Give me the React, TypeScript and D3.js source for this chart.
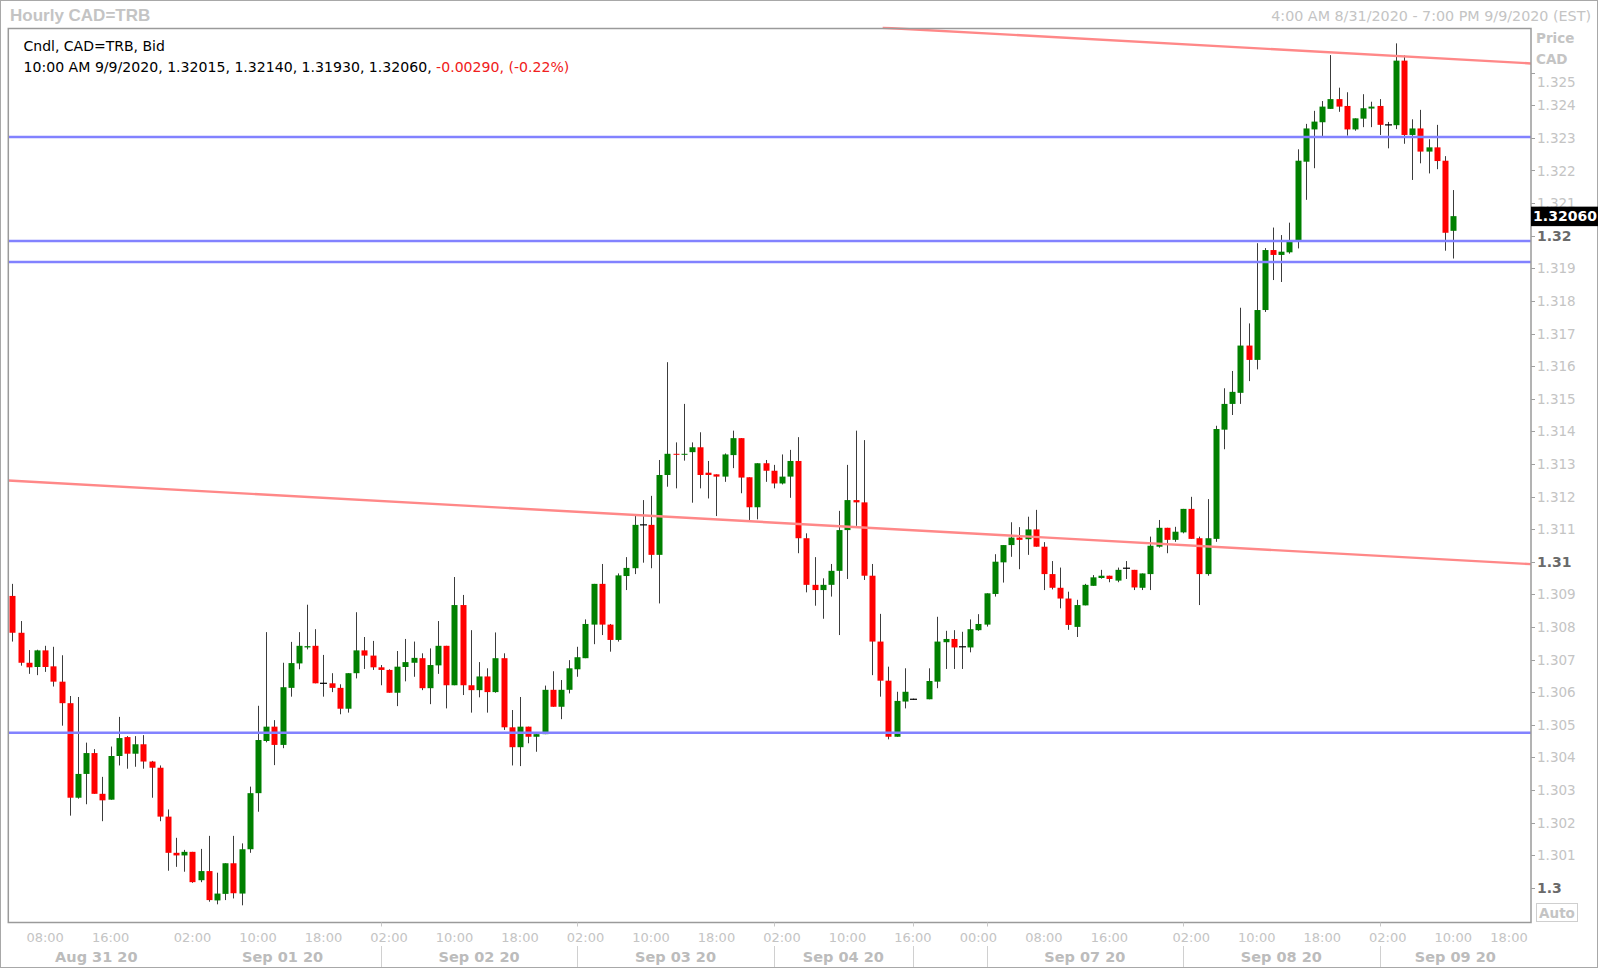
import React from 'react';
import * as d3 from 'd3';

// ---------- DATA (hourly slots, slot 1 = 4:00 AM 8/31/2020; null = no bar) ----------
const OPEN: (number | null)[] = [
  1.30895, 1.30782, 1.30690, 1.30677, 1.30728, 1.30679, 1.30632, 1.30566, 1.30276, 1.30349,
  1.30413, 1.30288, 1.30270, 1.30404, 1.30462, 1.30411, 1.30440, 1.30387, 1.30368, 1.30218,
  1.30107, 1.30099, 1.30110, 1.30023, 1.30051, 1.29961, 1.29981, 1.30075, 1.29982, 1.30118,
  1.30290, 1.30450, 1.30494, 1.30438, 1.30613, 1.30688, 1.30737, 1.30742, 1.30627, 1.30627,
  1.30613, 1.30549, 1.30658, 1.30728, 1.30712, 1.30676, 1.30668, 1.30598, 1.30677, 1.30690,
  1.30704, 1.30612, 1.30682, 1.30742, 1.30621, 1.30867, 1.30621, 1.30606, 1.30648, 1.30600,
  1.30704, 1.30492, 1.30431, 1.30494, 1.30463, 1.30471, 1.30607, 1.30555, 1.30607, 1.30670,
  1.30704, 1.30807, 1.30932, 1.30807, 1.30760, 1.30956, 1.30980, 1.31113, 1.31113, 1.31021,
  1.31266, 1.31331, 1.31328, 1.31336, 1.31351, 1.31273, 1.31268, 1.31261, 1.31327, 1.31379,
  1.31259, 1.31167, 1.31302, 1.31279, 1.31240, 1.31261, 1.31309, 1.31072, 1.30929, 1.30913,
  1.30929, 1.30972, 1.31097, 1.31189, 1.31182, 1.30957, 1.30755, 1.30635, 1.30463, 1.30571,
  1.30578, null, 1.30578, 1.30632, 1.30753, 1.30763, 1.30739, 1.30737, 1.30790, 1.30807,
  1.30901, 1.30998, 1.31051, 1.31074, 1.31069, 1.31099, 1.31046, 1.30962, 1.30920, 1.30887,
  1.30800, 1.30866, 1.30926, 1.30950, 1.30957, 1.30942, 1.30980, 1.30975, 1.30920, 1.30962,
  1.31046, 1.31104, 1.31067, 1.31090, 1.31162, 1.31072, 1.30962, 1.31070, 1.31405, 1.31484,
  1.31518, 1.31663, 1.31619, 1.31772, 1.31956, 1.31941, 1.31949, 1.31985, 1.32227, 1.32326,
  1.32348, 1.32389, 1.32419, 1.32398, 1.32326, 1.32359, 1.32390, 1.32398, 1.32340, 1.32339,
  1.32537, 1.32309, 1.32329, 1.32258, 1.32271, 1.32230, 1.32015,
];
const HIGH: (number | null)[] = [
  1.30932, 1.30818, 1.30729, 1.30730, 1.30742, 1.30739, 1.30713, 1.30588, 1.30585, 1.30445,
  1.30425, 1.30340, 1.30433, 1.30524, 1.30465, 1.30465, 1.30468, 1.30389, 1.30375, 1.30240,
  1.30153, 1.30116, 1.30110, 1.30119, 1.30159, 1.30046, 1.30075, 1.30159, 1.30136, 1.30310,
  1.30558, 1.30784, 1.30514, 1.30690, 1.30754, 1.30784, 1.30868, 1.30793, 1.30714, 1.30658,
  1.30624, 1.30658, 1.30845, 1.30769, 1.30757, 1.30683, 1.30670, 1.30726, 1.30763, 1.30755,
  1.30719, 1.30734, 1.30818, 1.30742, 1.30953, 1.30898, 1.30790, 1.30692, 1.30673, 1.30783,
  1.30719, 1.30545, 1.30585, 1.30494, 1.30471, 1.30620, 1.30664, 1.30637, 1.30698, 1.30739,
  1.30823, 1.30932, 1.30993, 1.30809, 1.30964, 1.31014, 1.31141, 1.31189, 1.31202, 1.31312,
  1.31612, 1.31366, 1.31484, 1.31366, 1.31397, 1.31309, 1.31268, 1.31332, 1.31402, 1.31379,
  1.31259, 1.31302, 1.31312, 1.31297, 1.31329, 1.31343, 1.31382, 1.31087, 1.31014, 1.30949,
  1.30993, 1.31156, 1.31297, 1.31402, 1.31373, 1.30993, 1.30840, 1.30678, 1.30601, 1.30673,
  1.30580, null, 1.30673, 1.30831, 1.30788, 1.30790, 1.30785, 1.30823, 1.30839, 1.30903,
  1.31023, 1.31051, 1.31121, 1.31106, 1.31138, 1.31159, 1.31060, 1.31002, 1.30982, 1.30908,
  1.30883, 1.30932, 1.30959, 1.30975, 1.30957, 1.30982, 1.31002, 1.30975, 1.30964, 1.31077,
  1.31128, 1.31104, 1.31107, 1.31162, 1.31199, 1.31077, 1.31192, 1.31417, 1.31532, 1.31585,
  1.31779, 1.31731, 1.31977, 1.31962, 1.32025, 1.32002, 1.32040, 1.32265, 1.32343, 1.32383,
  1.32413, 1.32554, 1.32454, 1.32440, 1.32360, 1.32434, 1.32411, 1.32419, 1.32349, 1.32590,
  1.32553, 1.32357, 1.32386, 1.32296, 1.32340, 1.32244, 1.32140,
];
const LOW: (number | null)[] = [
  1.30755, 1.30681, 1.30656, 1.30652, 1.30662, 1.30617, 1.30497, 1.30221, 1.30273, 1.30256,
  1.30288, 1.30204, 1.30270, 1.30375, 1.30365, 1.30371, 1.30365, 1.30276, 1.30204, 1.30052,
  1.30064, 1.30049, 1.30015, 1.30017, 1.29957, 1.29949, 1.29962, 1.29967, 1.29946, 1.30107,
  1.30233, 1.30446, 1.30376, 1.30428, 1.30586, 1.30670, 1.30731, 1.30627, 1.30586, 1.30600,
  1.30532, 1.30537, 1.30642, 1.30671, 1.30668, 1.30621, 1.30598, 1.30557, 1.30633, 1.30647,
  1.30606, 1.30563, 1.30656, 1.30550, 1.30621, 1.30591, 1.30537, 1.30584, 1.30537, 1.30598,
  1.30484, 1.30375, 1.30373, 1.30443, 1.30417, 1.30471, 1.30555, 1.30517, 1.30596, 1.30647,
  1.30704, 1.30747, 1.30775, 1.30724, 1.30755, 1.30913, 1.30962, 1.30997, 1.30980, 1.30872,
  1.31230, 1.31225, 1.31310, 1.31181, 1.31225, 1.31194, 1.31140, 1.31245, 1.31287, 1.31210,
  1.31128, 1.31130, 1.31245, 1.31225, 1.31237, 1.31196, 1.31026, 1.30906, 1.30865, 1.30825,
  1.30893, 1.30775, 1.30947, 1.31110, 1.30944, 1.30652, 1.30586, 1.30455, 1.30463, 1.30550,
  1.30576, null, 1.30578, 1.30612, 1.30671, 1.30671, 1.30671, 1.30722, 1.30788, 1.30801,
  1.30893, 1.30936, 1.31015, 1.30977, 1.31021, 1.31046, 1.30913, 1.30915, 1.30857, 1.30791,
  1.30769, 1.30866, 1.30926, 1.30948, 1.30937, 1.30937, 1.30947, 1.30913, 1.30913, 1.30913,
  1.31043, 1.31026, 1.31061, 1.31087, 1.31070, 1.30867, 1.30957, 1.31061, 1.31345, 1.31450,
  1.31484, 1.31554, 1.31590, 1.31766, 1.31864, 1.31858, 1.31945, 1.31961, 1.32110, 1.32207,
  1.32304, 1.32389, 1.32380, 1.32307, 1.32322, 1.32333, 1.32333, 1.32309, 1.32268, 1.32327,
  1.32282, 1.32171, 1.32222, 1.32191, 1.32204, 1.31954, 1.31930,
];
const CLOSE: (number | null)[] = [
  1.30782, 1.30690, 1.30676, 1.30728, 1.30677, 1.30632, 1.30566, 1.30276, 1.30349, 1.30413,
  1.30288, 1.30268, 1.30404, 1.30459, 1.30411, 1.30440, 1.30387, 1.30368, 1.30218, 1.30107,
  1.30099, 1.30110, 1.30017, 1.30051, 1.29962, 1.29982, 1.30075, 1.29983, 1.30118, 1.30290,
  1.30453, 1.30494, 1.30438, 1.30615, 1.30689, 1.30742, 1.30741, 1.30627, 1.30627, 1.30613,
  1.30549, 1.30658, 1.30728, 1.30712, 1.30676, 1.30668, 1.30598, 1.30678, 1.30692, 1.30705,
  1.30612, 1.30683, 1.30742, 1.30621, 1.30867, 1.30621, 1.30606, 1.30648, 1.30600, 1.30704,
  1.30492, 1.30431, 1.30494, 1.30463, 1.30471, 1.30607, 1.30555, 1.30607, 1.30673, 1.30707,
  1.30809, 1.30932, 1.30807, 1.30760, 1.30958, 1.30981, 1.31113, 1.31113, 1.31021, 1.31266,
  1.31331, 1.31328, 1.31331, 1.31351, 1.31266, 1.31266, 1.31261, 1.31329, 1.31379, 1.31258,
  1.31167, 1.31302, 1.31279, 1.31240, 1.31261, 1.31309, 1.31072, 1.30929, 1.30913, 1.30929,
  1.30972, 1.31097, 1.31189, 1.31182, 1.30957, 1.30755, 1.30635, 1.30463, 1.30573, 1.30601,
  1.30578, null, 1.30634, 1.30755, 1.30763, 1.30737, 1.30739, 1.30793, 1.30809, 1.30903,
  1.31000, 1.31051, 1.31074, 1.31067, 1.31099, 1.31046, 1.30962, 1.30920, 1.30887, 1.30806,
  1.30867, 1.30929, 1.30952, 1.30957, 1.30947, 1.30975, 1.30980, 1.30921, 1.30964, 1.31049,
  1.31104, 1.31067, 1.31092, 1.31162, 1.31070, 1.30962, 1.31072, 1.31407, 1.31484, 1.31521,
  1.31663, 1.31619, 1.31772, 1.31956, 1.31941, 1.31951, 1.31982, 1.32230, 1.32329, 1.32350,
  1.32396, 1.32419, 1.32396, 1.32326, 1.32360, 1.32391, 1.32396, 1.32340, 1.32340, 1.32537,
  1.32309, 1.32329, 1.32258, 1.32271, 1.32229, 1.32009, 1.32060,
];

const SLOT_COUNT = 186; // 4:00 AM 8/31 .. 7:00 PM 9/9
const H_LINES = [1.32303, 1.31984, 1.31919, 1.30475];
const TREND_LINES: [number, number][][] = [
  [[107.3, 1.32638], [186.8, 1.32528]],
  [[0.49, 1.31249], [186.8, 1.30992]],
];
const Y_TICKS = [
  1.300, 1.301, 1.302, 1.303, 1.304, 1.305, 1.306, 1.307, 1.308, 1.309,
  1.310, 1.311, 1.312, 1.313, 1.314, 1.315, 1.316, 1.317, 1.318, 1.319,
  1.320, 1.321, 1.322, 1.323, 1.324, 1.325,
];
const TIME_LABEL_SLOTS = [5, 13, 23, 31, 39, 47, 55, 63, 71, 79, 87, 95, 103, 111, 119, 127, 135, 145, 153, 161, 169, 177, 185];
const TIME_LABELS = ['08:00', '16:00', '02:00', '10:00', '18:00', '02:00', '10:00', '18:00', '02:00', '10:00', '18:00', '02:00', '10:00', '16:00', '00:00', '08:00', '16:00', '02:00', '10:00', '18:00', '02:00', '10:00', '18:00'];
const DATE_LABELS = ['Aug 31 20', 'Sep 01 20', 'Sep 02 20', 'Sep 03 20', 'Sep 04 20', 'Sep 07 20', 'Sep 08 20', 'Sep 09 20'];
const DATE_SPANS: [number, number][] = [[0.5, 22], [22, 46], [46, 70], [70, 94], [94, 111], [120, 144], [144, 168], [168, 186.5]];
const DATE_SEPARATORS = [46, 70, 94, 111, 120, 144, 168];
const LAST_INFO = '10:00 AM 9/9/2020';
const LAST_CHANGE = '-0.00290, (-0.22%)';

const FONT = "'DejaVu Sans', Verdana, sans-serif";
const PL = 8.3, PR = 1531, PT = 28.5, PB = 922.5;

export default function App() {
  const x = d3.scaleLinear().domain([0.5, SLOT_COUNT + 0.5]).range([PL, PR]);
  const y = d3.scaleLinear().domain([1.3, 1.32]).range([887.7, 235.7]);
  const line = d3.line<[number, number]>().x(d => x(d[0])).y(d => y(d[1]));
  const bw = 6;
  const last = OPEN.length - 1;
  const lastClose = CLOSE[last] as number;

  const candles = OPEN.map((o, i) => {
    const c = CLOSE[i], h = HIGH[i], l = LOW[i];
    if (o == null || c == null || h == null || l == null) return null;
    const cx = Math.round(x(i + 1)) + 0.5;
    const up = c > o;
    const doji = Math.abs(c - o) < 0.000005;
    const top = y(Math.max(o, c));
    const bh = Math.max(1, Math.abs(y(o) - y(c)));
    return (
      <g key={i}>
        <line x1={cx} x2={cx} y1={y(h)} y2={y(l)} stroke="#3c3c3c" strokeWidth={1} />
        {doji ? (
          <line x1={cx - 3.5} x2={cx + 3.5} y1={y(o)} y2={y(o)} stroke="#000" strokeWidth={1.2} />
        ) : (
          <rect x={cx - bw / 2} y={top} width={bw} height={bh} fill={up ? '#008000' : '#ff0000'} />
        )}
      </g>
    );
  });

  return (
    <svg width={1600} height={970} style={{ position: 'absolute', left: 0, top: 0, background: '#fff' }} fontFamily={FONT}>
      <rect x={0} y={0} width={1600} height={970} fill="#fff" />
      <rect x={0.5} y={0.5} width={1597} height={967} fill="none" stroke="#a8a8a8" />
      <text x={10} y={21} fontFamily="'Liberation Sans', Arial, sans-serif" fontWeight="bold" fontSize={17} fill="#c4c4c4">Hourly CAD=TRB</text>
      <text x={1591} y={21} textAnchor="end" fontSize={14.3} fill="#c4c4c4">4:00 AM 8/31/2020 - 7:00 PM 9/9/2020 (EST)</text>

      <defs>
        <clipPath id="plotClip"><rect x={PL} y={PT - 2} width={PR - PL} height={PB - PT + 2} /></clipPath>
      </defs>
      <g clipPath="url(#plotClip)">
        {candles}
        {H_LINES.map((v, i) => (
          <line key={'h' + i} x1={PL} x2={PR} y1={y(v)} y2={y(v)} stroke="#8282ff" strokeWidth={2.5} />
        ))}
        {TREND_LINES.map((pts, i) => (
          <path key={'t' + i} d={line(pts) || ''} fill="none" stroke="#ff8888" strokeWidth={2.4} />
        ))}
      </g>
      <rect x={PL} y={PT} width={PR - PL} height={PB - PT} fill="none" stroke="#9a9a9a" strokeWidth={1.5} />

      <text x={23.5} y={51} fontSize={14} fill="#000">Cndl, CAD=TRB, Bid</text>
      <text x={23.5} y={72} fontSize={14.1} fill="#000">
        {`${LAST_INFO}, ${(OPEN[last] as number).toFixed(5)}, ${(HIGH[last] as number).toFixed(5)}, ${(LOW[last] as number).toFixed(5)}, ${lastClose.toFixed(5)}, `}
        <tspan fill="#f02020">{LAST_CHANGE}</tspan>
      </text>

      {/* right price axis */}
      {Y_TICKS.map((v, i) => {
        const ty = y(v);
        const major = Math.abs(v * 100 - Math.round(v * 100)) < 1e-6;
        const label = major ? String(+v.toFixed(2)) : v.toFixed(3);
        const ly = i === Y_TICKS.length - 1 ? ty + 9 : ty;
        return (
          <g key={'yt' + i}>
            <line x1={PR} x2={PR + 4} y1={Math.round(ty) + 0.5} y2={Math.round(ty) + 0.5} stroke="#a0a0a0" />
            <text x={1537} y={ly + 5} fontSize={major ? 14 : 13.5} fontWeight={major ? 'bold' : 'normal'} fill={major ? '#6a6a6a' : '#c4c4c4'}>{label}</text>
          </g>
        );
      })}
      <text x={1536} y={43} fontSize={13.5} fontWeight="bold" fill="#c4c4c4">Price</text>
      <text x={1536} y={64} fontSize={13.5} fontWeight="bold" fill="#c4c4c4">CAD</text>
      <rect x={PR} y={y(lastClose) - 9.5} width={67} height={19.5} fill="#000" />
      <text x={PR + 34} y={y(lastClose) + 5} textAnchor="middle" fontSize={14} fontWeight="bold" fill="#fff">{lastClose.toFixed(5)}</text>
      <rect x={1536.5} y={903.5} width={41} height={18} fill="#fff" stroke="#cfcfcf" />
      <text x={1557} y={918} textAnchor="middle" fontSize={13.5} fontWeight="bold" fill="#c4c4c4">Auto</text>

      {/* time axis */}
      {TIME_LABEL_SLOTS.map((s, i) => {
        const cx = Math.min(x(s), PR - 22);
        return (
          <text key={'tl' + i} x={cx} y={942} textAnchor="middle" fontSize={13} fill="#c4c4c4">{TIME_LABELS[i]}</text>
        );
      })}
      {DATE_SEPARATORS.map((s, i) => (
        <g key={'ds' + i}>
          <line x1={Math.round(x(s)) + 0.5} x2={Math.round(x(s)) + 0.5} y1={PB} y2={PB + 4} stroke="#c8c8c8" />
          <line x1={Math.round(x(s)) + 0.5} x2={Math.round(x(s)) + 0.5} y1={946} y2={967} stroke="#d0d0d0" />
        </g>
      ))}
      {DATE_LABELS.map((d, i) => (
        <text key={'dl' + i} x={(x(DATE_SPANS[i][0]) + x(DATE_SPANS[i][1])) / 2} y={962} textAnchor="middle" fontSize={14.5} fontWeight="bold" fill="#bcbcbc">{d}</text>
      ))}
    </svg>
  );
}
